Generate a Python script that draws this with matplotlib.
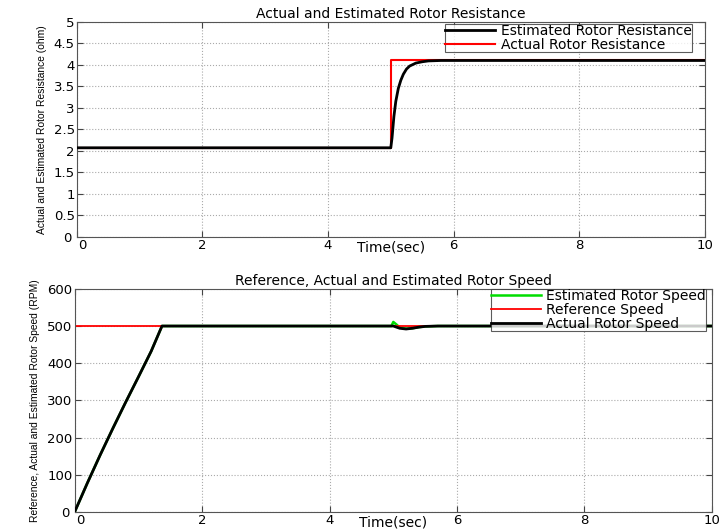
import matplotlib
matplotlib.use("Agg")
import matplotlib.pyplot as plt
import matplotlib.transforms as mtransforms

plt.rcParams['font.family'] = ['DejaVu Sans']

# rotor resistance (ohm)
t_r_act = [0, 5.0, 5.0, 10]
r_act = [2.07, 2.07, 4.1, 4.1]
t_r_est = [0, 5.0, 5.02, 5.05, 5.08, 5.12, 5.16, 5.2, 5.25, 5.3, 5.4, 5.5, 5.6, 5.8, 6.0, 10]
r_est = [2.07, 2.07, 2.3, 2.8, 3.15, 3.45, 3.64, 3.78, 3.9, 3.97, 4.04, 4.07, 4.09, 4.1, 4.1, 4.1]

# rotor speed (RPM)
t_w_ref = [0, 10]
w_ref = [500, 500]
t_w_act = [0, 0.2, 0.4, 0.6, 0.8, 1.0, 1.2, 1.37, 5.0, 5.05, 5.1, 5.2, 5.3, 5.4, 5.5, 5.7, 10]
w_act = [0, 78, 153, 225, 295, 363, 432, 500, 500, 497, 494, 492, 494, 497, 499, 500, 500]
t_w_est = [0, 0.2, 0.4, 0.6, 0.8, 1.0, 1.2, 1.37, 4.97, 5.0, 5.05, 5.1, 5.2, 5.3, 5.4, 5.5, 5.7, 10]
w_est = [0, 78, 153, 225, 295, 363, 432, 500, 500, 511, 504, 496, 493, 494, 497, 499, 500, 500]

fig = plt.figure(figsize=(7.25, 5.31), dpi=100)
ax1 = fig.add_axes([0.106, 0.554, 0.866, 0.405])
ax2 = fig.add_axes([0.103, 0.036, 0.879, 0.42])

lab_font = dict(family=['Liberation Sans Narrow', 'Liberation Sans'], fontsize=7.4)
leg_kw = dict(loc='upper right', prop={'size': 10}, frameon=True, fancybox=False,
              edgecolor='#333333', borderpad=0.0, labelspacing=0.0, handlelength=3.6,
              handletextpad=0.4, borderaxespad=0)

ax1.plot(t_r_est, r_est, color='black', lw=2, label='Estimated Rotor Resistance', zorder=3)
ax1.plot(t_r_act, r_act, color='red', lw=1.5, label='Actual Rotor Resistance', zorder=2)
ax1.set_xlim(0, 10)
ax1.set_ylim(0, 5)
ax1.set_xticks(range(0, 11, 2))
ax1.set_yticks([0, 0.5, 1, 1.5, 2, 2.5, 3, 3.5, 4, 4.5, 5])
ax1.set_yticklabels(['0', '0.5', '1', '1.5', '2', '2.5', '3', '3.5', '4', '4.5', '5'])
ax1.set_title('Actual and Estimated Rotor Resistance', fontsize=10, pad=3)
ax1.set_xlabel('Time(sec)', fontsize=10, labelpad=-8)
ax1.set_ylabel('Actual and Estimated Rotor Resistance (ohm)', labelpad=5, **lab_font)
leg1 = ax1.legend(bbox_to_anchor=(0.979, 0.99), **leg_kw)

ax2.plot(t_w_est, w_est, color='#00dd00', lw=1.8, label='Estimated Rotor Speed', zorder=2)
ax2.plot(t_w_ref, w_ref, color='red', lw=1.3, label='Reference Speed', zorder=2)
ax2.plot(t_w_act, w_act, color='black', lw=2, label='Actual Rotor Speed', zorder=3)
ax2.set_xlim(0, 10)
ax2.set_ylim(0, 600)
ax2.set_xticks(range(0, 11, 2))
ax2.set_yticks(range(0, 601, 100))
ax2.set_title('Reference, Actual and Estimated Rotor Speed', fontsize=10, pad=3)
ax2.set_xlabel('Time(sec)', fontsize=10, labelpad=-8)
ax2.set_ylabel('Reference, Actual and Estimated Rotor Speed (RPM)', labelpad=5, **lab_font)
leg2 = ax2.legend(bbox_to_anchor=(0.991, 1.0), **leg_kw)

for leg in (leg1, leg2):
    leg.get_frame().set_linewidth(0.8)

# nudge the two "0" labels apart at the corner
shift_x = mtransforms.ScaledTranslation(4 / 72, 0, fig.dpi_scale_trans)
shift_y = mtransforms.ScaledTranslation(-2 / 72, 0, fig.dpi_scale_trans)

for ax in (ax1, ax2):
    ax.grid(True, linestyle=':', color='#aaaaaa', lw=0.8)
    ax.tick_params(direction='in', labelsize=9.5, length=4, colors='#444444',
                   labelcolor='black', pad=1.5, top=True, right=True)
    for s in ax.spines.values():
        s.set_color('#555555')
        s.set_linewidth(0.8)
    xl0 = ax.get_xticklabels()[0]
    xl0.set_transform(xl0.get_transform() + shift_x)
    yl0 = ax.get_yticklabels()[0]
    yl0.set_transform(yl0.get_transform() + shift_y)

fig.savefig('out.png', dpi=100)
